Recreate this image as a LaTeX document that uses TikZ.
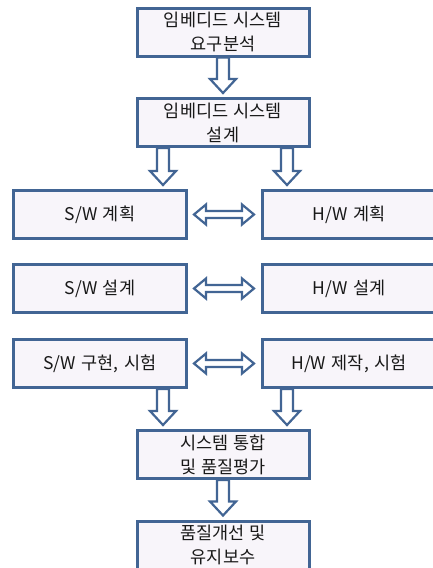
\documentclass[tikz,border=0pt]{standalone}
\usepackage{fontspec}
\setmainfont{Noto Sans CJK KR}[WordSpace={1.4,0,0}]
\usetikzlibrary{calc}
\definecolor{bordercol}{RGB}{66,101,148}
\definecolor{boxfill}{RGB}{248,245,250}
\definecolor{txtcol}{RGB}{25,25,25}
\tikzset{
  flowbox/.style={draw=bordercol, line width=3pt, fill=boxfill, minimum width=172pt, minimum height=48pt,
    inner sep=0pt, align=center, text=txtcol, font=\fontsize{17.5}{24}\selectfont},
  sidebox/.style={flowbox, minimum width=173pt},
  hollowarrow/.style={draw=bordercol, line width=2.2pt, fill=white, line join=miter},
}
\newcommand\downarr[2]{%
  \draw[hollowarrow] let \p1=#1, \p2=#2 in
    (\x1-6pt,\y1) -- (\x1-6pt,\y2+18pt) -- (\x1-13pt,\y2+18pt) -- (\x1,\y2+4pt)
    -- (\x1+13pt,\y2+18pt) -- (\x1+6pt,\y2+18pt) -- (\x1+6pt,\y1) -- cycle;}
\newcommand\bothArr[2]{%
  \draw[hollowarrow] let \p1=#1, \p2=#2 in
    (\x1+6pt,\y1) -- (\x1+18pt,\y1+10pt) -- (\x1+18pt,\y1+3.5pt) -- (\x2-19pt,\y1+3.5pt)
    -- (\x2-19pt,\y1+10pt) -- (\x2-7pt,\y1) -- (\x2-19pt,\y1-10pt) -- (\x2-19pt,\y1-3.5pt)
    -- (\x1+18pt,\y1-3.5pt) -- (\x1+18pt,\y1-10pt) -- cycle;}
\begin{document}
\begin{tikzpicture}[x=1pt,y=-1pt]
\useasboundingbox (0,0) rectangle (433,568);
\clip (0,0) rectangle (433,568);
\fill[white] (0,0) rectangle (433,568);
\node[flowbox] (b1) at (223,32) {임베디드 시스템\\요구분석};
\node[flowbox] (b2) at (223,122.5) {임베디드 시스템\\설계};
\node[sidebox] (s1) at (100,214.5) {S/W 계획};
\node[sidebox] (h1) at (349,214.5) {H/W 계획};
\node[sidebox] (s2) at (100,288.5) {S/W 설계};
\node[sidebox] (h2) at (349,288.5) {H/W 설계};
\node[sidebox] (s3) at (100,363.5) {S/W 구현, 시험};
\node[sidebox] (h3) at (349,363.5) {H/W 제작, 시험};
\node[flowbox] (b5) at (223,454.5) {시스템 통합\\및 품질평가};
\node[flowbox] (b6) at (223,545) {품질개선 및\\유지보수};
\coordinate (ltop) at ($(b2.south)+(-60,0)$);
\coordinate (rtop) at ($(b2.south)+(64,0)$);
\coordinate (lbot) at ($(b5.north)+(-60,0)$);
\coordinate (rbot) at ($(b5.north)+(64,0)$);
\downarr{(b1.south)}{(b2.north)}
\downarr{(ltop)}{(s1.north)}
\downarr{(rtop)}{(h1.north)}
\bothArr{(s1.east)}{(h1.west)}
\bothArr{(s2.east)}{(h2.west)}
\bothArr{(s3.east)}{(h3.west)}
\downarr{(lbot |- s3.south)}{(lbot)}
\downarr{(rbot |- h3.south)}{(rbot)}
\downarr{(b5.south)}{(b6.north)}
\end{tikzpicture}
\end{document}
